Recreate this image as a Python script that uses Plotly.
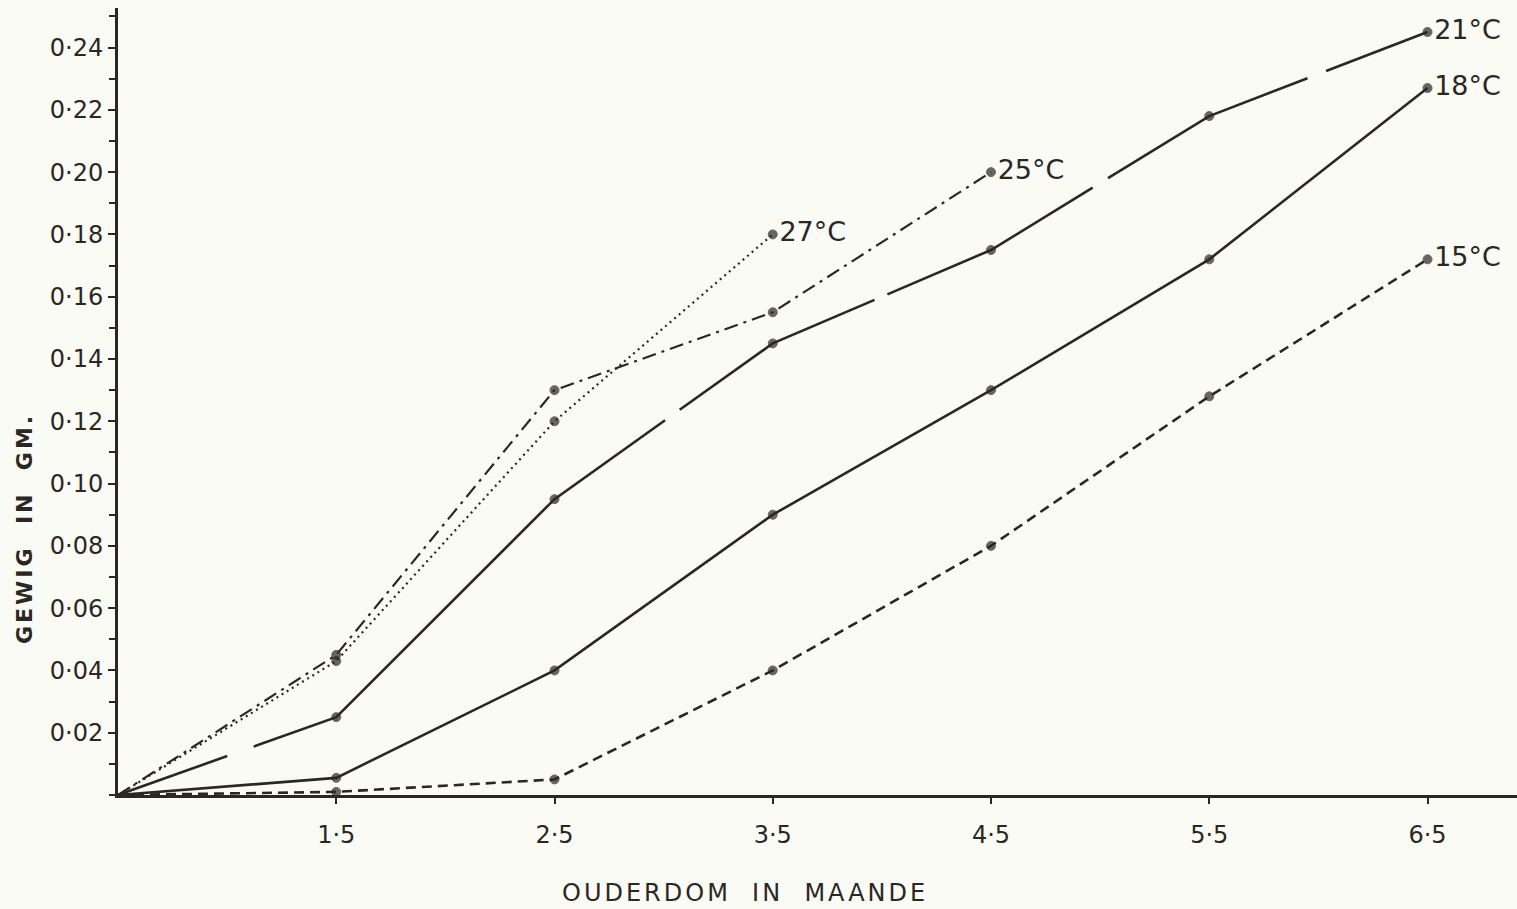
import plotly.graph_objects as go

months = [0.5, 1.5, 2.5, 3.5, 4.5, 5.5, 6.5]

w15 = [0.0, 0.001, 0.005, 0.040, 0.080, 0.128, 0.172]
w18 = [0.0, 0.0055, 0.040, 0.090, 0.130, 0.172, 0.227]
w21 = [0.0, 0.025, 0.095, 0.145, 0.175, 0.218, 0.245]
w25 = [0.0, 0.045, 0.130, 0.155, 0.200]
w27 = [0.0, 0.043, 0.120, 0.180]

labels = ["15°C", "18°C", "21°C", "25°C", "27°C"]

y_ticks = [0.02, 0.04, 0.06, 0.08, 0.10, 0.12, 0.14, 0.16, 0.18, 0.20, 0.22, 0.24]
y_ticktext = ["0·02", "0·04", "0·06", "0·08", "0·10", "0·12", "0·14", "0·16", "0·18", "0·20", "0·22", "0·24"]
x_ticks = [1.5, 2.5, 3.5, 4.5, 5.5, 6.5]
x_ticktext = ["1·5", "2·5", "3·5", "4·5", "5·5", "6·5"]

x_title = "OUDERDOM  IN  MAANDE"
y_title = "GEWIG  IN  GM."

INK = "#2b2723"
BG = "#fbfbf6"
FONT = "DejaVu Sans"

# long-dash pattern of the hand-drawn 21°C curve (dash/gap lengths along the line)
DASH21 = "116px,28px,532px,18px,225px,14px,232px,18px,224px,20px,400px,0px"

series = [
    (w21, labels[2], DASH21, 2.6),
    (w18, labels[1], "solid", 2.6),
    (w15, labels[0], "10px,6px", 2.6),
    (w25, labels[3], "14px,6px,3px,6px", 2.2),
    (w27, labels[4], "2px,4px", 2.2),
]

fig = go.Figure()
for ys, lab, dash, width in series:
    n = len(ys)
    xs = months[:n]
    sizes = [0] + [9] * (n - 1)
    texts = [""] * (n - 1) + [lab]
    fig.add_trace(go.Scatter(
        x=xs, y=ys, mode="lines+markers+text",
        line=dict(color=INK, width=width, dash=dash),
        marker=dict(color=INK, size=sizes, line=dict(color=INK, width=1)),
        text=texts, textposition="middle right",
        textfont=dict(family=FONT, size=27, color=INK),
        showlegend=False, cliponaxis=False,
    ))

fig.update_layout(
    width=1517, height=909,
    margin=dict(l=118, r=0, t=8, b=114),
    paper_bgcolor=BG, plot_bgcolor=BG,
    font=dict(family=FONT, color=INK),
    xaxis=dict(
        range=[0.5, 6.91], showgrid=False, zeroline=False,
        showline=True, linecolor=INK, linewidth=3,
        tickmode="array", tickvals=x_ticks, ticktext=x_ticktext,
        ticks="outside", ticklen=6, tickwidth=2, tickcolor=INK,
        ticklabelstandoff=10,
        tickfont=dict(family=FONT, size=24, color=INK),
    ),
    yaxis=dict(
        range=[0, 0.2527], showgrid=False, zeroline=False,
        showline=True, linecolor=INK, linewidth=3,
        tickmode="array", tickvals=y_ticks, ticktext=y_ticktext,
        ticks="outside", ticklen=7, tickwidth=2, tickcolor=INK,
        tickfont=dict(family=FONT, size=24, color=INK),
        minor=dict(dtick=0.01, tick0=0, ticks="outside", ticklen=6, tickwidth=2, tickcolor=INK),
    ),
    annotations=[
        dict(text='<span style="letter-spacing:3px">' + x_title + '</span>',
             xref="paper", yref="paper", x=(745 - 118) / 1399, y=-(893 - 795) / 787,
             showarrow=False, xanchor="center", yanchor="middle",
             font=dict(family=FONT, size=24, color=INK)),
        dict(text='<span style="letter-spacing:3px"><b>' + y_title + '</b></span>',
             xref="paper", yref="paper", x=(24 - 118) / 1399, y=(795 - 528) / 787,
             showarrow=False, xanchor="center", yanchor="middle", textangle=-90,
             font=dict(family=FONT, size=22, color=INK)),
    ],
)

fig.write_html("out.html")
